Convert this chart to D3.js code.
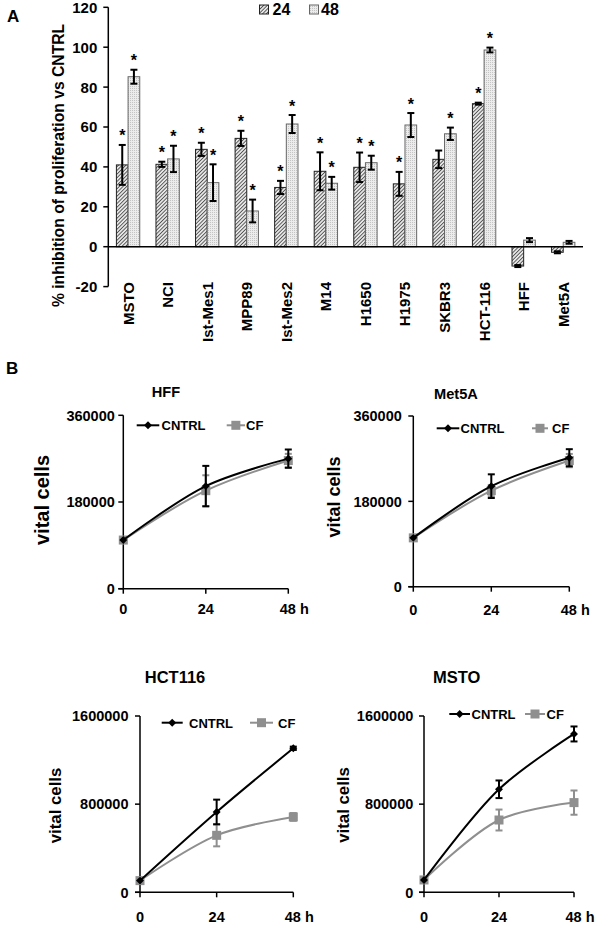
<!DOCTYPE html>
<html><head><meta charset="utf-8">
<script src="https://cdn.jsdelivr.net/npm/d3@7"></script>
<style>
html,body{margin:0;padding:0;background:#fff;}
svg{display:block;font-family:"Liberation Sans",Arial,sans-serif;font-weight:bold;}
</style></head>
<body>
<svg id="chart" width="600" height="929"></svg>
<script>
// ---------- Panel A data ----------
const categories = ["MSTO","NCI","Ist-Mes1","MPP89","Ist-Mes2","M14","H1650","H1975","SKBR3","HCT-116","HFF","Met5A"];
const seriesNames = ["24","48"];
const inhib24 = [41, 41.3, 48.8, 54.3, 29.7, 37.8, 39.8, 31.5, 43.8, 71.7, -9.7, -2.8];
const err24   = [10, 1.3, 3.3, 3.8, 3.3, 9.5, 7.4, 6, 4.4, 0.5, 0.5, 0.5];
const inhib48 = [85.2, 44, 32.1, 17.9, 61.5, 31.8, 42.1, 61, 56.6, 98.6, 3.3, 2.2];
const err48   = [3.5, 6.6, 9.2, 5.7, 4.5, 3.2, 3.5, 6, 3.1, 1.2, 1, 0.7];
const star24  = [1,1,1,1,1,1,1,1,0,1,0,0];
const star48  = [1,1,1,1,1,1,1,1,1,1,0,0];
const yTicksA = [-20,0,20,40,60,80,100,120];

// ---------- Panel B data ----------
const timePoints = [0, 24, 48];
const timeLabels = ["0", "24", "48 h"];
const hffCntrl = [101000, 213000, 270000];
const hffCntrlErr = [0, 42000, 19000];
const hffCf = [101000, 203500, 266000];
const hffCfErr = [0, 32000, 14000];
const met5aCntrl = [103000, 212000, 272000];
const met5aCntrlErr = [0, 25000, 18000];
const met5aCf = [103000, 202500, 266000];
const met5aCfErr = [0, 12000, 14000];
const hctCntrl = [106000, 729000, 1307000];
const hctCntrlErr = [0, 112000, 15000];
const hctCf = [106000, 517000, 684000];
const hctCfErr = [0, 100000, 35000];
const mstoCntrl = [112000, 935000, 1437000];
const mstoCntrlErr = [0, 80000, 68000];
const mstoCf = [112000, 656000, 814000];
const mstoCfErr = [0, 95000, 110000];
const yTicksSmall = [0, 180000, 360000];
const yTicksLarge = [0, 800000, 1600000];

const svg = d3.select("#chart");
const defs = svg.append("defs");
// hatch pattern for 24 h
const hp = defs.append("pattern").attr("id","hatch").attr("patternUnits","userSpaceOnUse")
  .attr("width",2.6).attr("height",2.6).attr("patternTransform","rotate(45)");
hp.append("rect").attr("width",2.6).attr("height",2.6).attr("fill","#e6e6e6");
hp.append("line").attr("x1",0).attr("y1",0).attr("x2",0).attr("y2",2.6).attr("stroke","#2a2a2a").attr("stroke-width",1.4);
// stipple pattern for 48 h
const sp = defs.append("pattern").attr("id","dots").attr("patternUnits","userSpaceOnUse")
  .attr("width",2).attr("height",2);
sp.append("rect").attr("width",2).attr("height",2).attr("fill","#ececec");
sp.append("rect").attr("width",1).attr("height",1).attr("fill","#c4c4c4");

// ---------- Panel A ----------
const xA = d3.scaleBand().domain(categories).range([108.3, 583]).paddingInner(0.41).paddingOuter(0.205);
const yA = d3.scaleLinear().domain([-20,120]).range([286.6, 7.3]);
const bw = xA.bandwidth()/2;
const gA = svg.append("g");

gA.append("line").attr("x1",xA.range()[0]).attr("x2",xA.range()[0]).attr("y1",yA(-20)).attr("y2",yA(120))
  .attr("stroke","#000").attr("stroke-width",1.5);
yTicksA.forEach(t=>{
  gA.append("line").attr("x1",xA.range()[0]-5).attr("x2",xA.range()[0]).attr("y1",yA(t)).attr("y2",yA(t)).attr("stroke","#000").attr("stroke-width",1.5);
  gA.append("text").attr("x",xA.range()[0]-11).attr("y",yA(t)).attr("dy","0.36em").attr("text-anchor","end")
    .attr("font-size",15).text(t);
});

const seriesA = [
  {vals:inhib24, errs:err24, stars:star24, fill:"url(#hatch)", stroke:"#222", off:0},
  {vals:inhib48, errs:err48, stars:star48, fill:"url(#dots)", stroke:"#666", off:1}
];
seriesA.forEach(s=>{
  categories.forEach((c,i)=>{
    const v = s.vals[i];
    const x0 = xA(c) + s.off*bw;
    gA.append("rect").attr("x",x0).attr("width",bw)
      .attr("y",Math.min(yA(v),yA(0))).attr("height",Math.abs(yA(v)-yA(0)))
      .attr("fill",s.fill).attr("stroke",s.stroke).attr("stroke-width",1);
  });
});
gA.append("line").attr("x1",xA.range()[0]).attr("x2",xA.range()[1]).attr("y1",yA(0)).attr("y2",yA(0))
  .attr("stroke","#000").attr("stroke-width",1.5);
seriesA.forEach(s=>{
  categories.forEach((c,i)=>{
    const v = s.vals[i], e = s.errs[i];
    const cx = xA(c) + s.off*bw + bw/2;
    const yt = yA(v+e), yb = yA(v-e);
    gA.append("line").attr("x1",cx).attr("x2",cx).attr("y1",yt).attr("y2",yb).attr("stroke","#000").attr("stroke-width",2);
    [yt,yb].forEach(yy=>gA.append("line").attr("x1",cx-3.5).attr("x2",cx+3.5).attr("y1",yy).attr("y2",yy).attr("stroke","#000").attr("stroke-width",2));
    if(s.stars[i]){
      gA.append("text").attr("x",cx).attr("y",yt-3.5).attr("text-anchor","middle").attr("font-size",16).text("*");
    }
  });
});
categories.forEach(c=>{
  const cx = xA(c)+xA.bandwidth()/2;
  gA.append("text").attr("transform",`translate(${cx+5.5},282) rotate(-90)`).attr("text-anchor","end")
    .attr("font-size",15).text(c);
});
gA.append("text").attr("transform","translate(64,165.5) rotate(-90)").attr("text-anchor","middle")
  .attr("font-size",15.7).text("% inhibition of proliferation vs CNTRL");
gA.append("rect").attr("x",259.5).attr("y",5).attr("width",9).attr("height",9).attr("fill","url(#hatch)").attr("stroke","#222");
gA.append("text").attr("x",272.5).attr("y",14.5).attr("font-size",16).text(seriesNames[0]);
gA.append("rect").attr("x",309.5).attr("y",5).attr("width",9).attr("height",9).attr("fill","url(#dots)").attr("stroke","#666");
gA.append("text").attr("x",321).attr("y",14.5).attr("font-size",16).text(seriesNames[1]);
svg.append("text").attr("x",7).attr("y",22).attr("font-size",17).text("A");
svg.append("text").attr("x",6).attr("y",374).attr("font-size",17).text("B");

// ---------- Panel B ----------
function linePanel(cfg){
  const g = svg.append("g");
  const x = d3.scaleLinear().domain([0,48]).range(cfg.xr);
  const y = d3.scaleLinear().domain([0,cfg.ymax]).range(cfg.yr);
  g.append("line").attr("x1",x(0)).attr("x2",x(0)).attr("y1",y(0)).attr("y2",y(cfg.ymax)).attr("stroke","#000").attr("stroke-width",1.5);
  g.append("line").attr("x1",x(0)-5).attr("x2",x(48)).attr("y1",y(0)).attr("y2",y(0)).attr("stroke","#000").attr("stroke-width",1.5);
  cfg.yticks.forEach(t=>{
    g.append("line").attr("x1",x(0)-5).attr("x2",x(0)).attr("y1",y(t)).attr("y2",y(t)).attr("stroke","#000").attr("stroke-width",1.5);
    g.append("text").attr("x",x(0)-cfg.tgap).attr("y",y(t)).attr("dy","0.36em").attr("text-anchor","end").attr("font-size",14.5).text(t);
  });
  timePoints.forEach((t,i)=>{
    g.append("line").attr("x1",x(t)).attr("x2",x(t)).attr("y1",y(0)).attr("y2",y(0)+5).attr("stroke","#000").attr("stroke-width",1.5);
    const lab = timeLabels[i];
    if(i===timePoints.length-1){
      g.append("text").attr("x",x(t)-8.5).attr("y",cfg.xlabY).attr("font-size",14.5).text(lab);
    } else {
      g.append("text").attr("x",x(t)).attr("y",cfg.xlabY).attr("text-anchor","middle").attr("font-size",14.5).text(lab);
    }
  });
  g.append("text").attr("x",cfg.titleX).attr("y",cfg.titleY).attr("text-anchor","middle").attr("font-size",cfg.titleSize).text(cfg.title);
  g.append("text").attr("transform",`translate(${cfg.ylabX},${cfg.ylabY}) rotate(-90)`).attr("text-anchor","middle")
    .attr("font-size",cfg.ylabSize).text("vital cells");
  const series = [
    {vals:cfg.cf, errs:cfg.cfErr, color:"#8f8f8f", shape:"square"},
    {vals:cfg.cntrl, errs:cfg.cntrlErr, color:"#000", shape:"diamond"}
  ];
  const line = d3.line().x((d,i)=>x(timePoints[i])).y(d=>y(d)).curve(d3.curveCatmullRom.alpha(0.5));
  series.forEach(s=>{
    g.append("path").attr("d",line(s.vals)).attr("fill","none").attr("stroke",s.color).attr("stroke-width",2);
    s.vals.forEach((v,i)=>{
      const cx = x(timePoints[i]);
      const e = s.errs[i];
      if(e>0){
        g.append("line").attr("x1",cx).attr("x2",cx).attr("y1",y(v+e)).attr("y2",y(v-e)).attr("stroke",s.color).attr("stroke-width",2);
        [v+e,v-e].forEach(vv=>g.append("line").attr("x1",cx-3.5).attr("x2",cx+3.5).attr("y1",y(vv)).attr("y2",y(vv)).attr("stroke",s.color).attr("stroke-width",2));
      }
    });
    s.vals.forEach((v,i)=>{
      const cx = x(timePoints[i]);
      if(s.shape==="square") g.append("rect").attr("x",cx-4.5).attr("y",y(v)-4.5).attr("width",9).attr("height",9).attr("fill",s.color);
      else g.append("path").attr("d",d3.symbol(d3.symbolDiamond2,40)()).attr("transform",`translate(${cx},${y(v)})`).attr("fill",s.color);
    });
  });
  const L = cfg.leg;
  g.append("line").attr("x1",L.c1).attr("x2",L.c2).attr("y1",L.y).attr("y2",L.y).attr("stroke","#000").attr("stroke-width",2);
  g.append("path").attr("d",d3.symbol(d3.symbolDiamond2,40)()).attr("transform",`translate(${(L.c1+L.c2)/2},${L.y})`).attr("fill","#000");
  g.append("text").attr("x",L.ct).attr("y",L.y+5).attr("font-size",13).text("CNTRL");
  g.append("line").attr("x1",L.f1).attr("x2",L.f2).attr("y1",L.y).attr("y2",L.y).attr("stroke","#8f8f8f").attr("stroke-width",2);
  g.append("rect").attr("x",(L.f1+L.f2)/2-4.5).attr("y",L.y-4.5).attr("width",9).attr("height",9).attr("fill","#8f8f8f");
  g.append("text").attr("x",L.ft).attr("y",L.y+5).attr("font-size",13).text("CF");
}

linePanel({title:"HFF", titleX:166, titleY:397, titleSize:14.6, xr:[123.3,288.3], yr:[588.7,415.3], ymax:360000,
  yticks:yTicksSmall, tgap:8.5, xlabY:613.5, ylabX:49, ylabY:500, ylabSize:20,
  cntrl:hffCntrl, cntrlErr:hffCntrlErr, cf:hffCf, cfErr:hffCfErr,
  leg:{y:425.3, c1:136.7, c2:159.3, ct:161.5, f1:226.7, f2:245, ft:246}});
linePanel({title:"Met5A", titleX:456, titleY:399, titleSize:14.6, xr:[413.3,569.3], yr:[586.7,416], ymax:360000,
  yticks:yTicksSmall, tgap:11.5, xlabY:615, ylabX:340, ylabY:497, ylabSize:18,
  cntrl:met5aCntrl, cntrlErr:met5aCntrlErr, cf:met5aCf, cfErr:met5aCfErr,
  leg:{y:428.3, c1:436.7, c2:459.3, ct:460.5, f1:532, f2:548, ft:552}});
linePanel({title:"HCT116", titleX:175, titleY:683, titleSize:16.5, xr:[140,293.3], yr:[892.3,716], ymax:1600000,
  yticks:yTicksLarge, tgap:11.5, xlabY:921.5, ylabX:61, ylabY:805.5, ylabSize:16.8,
  cntrl:hctCntrl, cntrlErr:hctCntrlErr, cf:hctCf, cfErr:hctCfErr,
  leg:{y:722.7, c1:161.7, c2:182.7, ct:189, f1:250, f2:273, ft:278}});
linePanel({title:"MSTO", titleX:456.7, titleY:683, titleSize:16.5, xr:[424,574], yr:[892.3,716], ymax:1600000,
  yticks:yTicksLarge, tgap:10.7, xlabY:921.5, ylabX:349, ylabY:805, ylabSize:16.8,
  cntrl:mstoCntrl, cntrlErr:mstoCntrlErr, cf:mstoCf, cfErr:mstoCfErr,
  leg:{y:714, c1:449.3, c2:470, ct:471.5, f1:525, f2:545, ft:546.5}});
</script>
</body></html>
